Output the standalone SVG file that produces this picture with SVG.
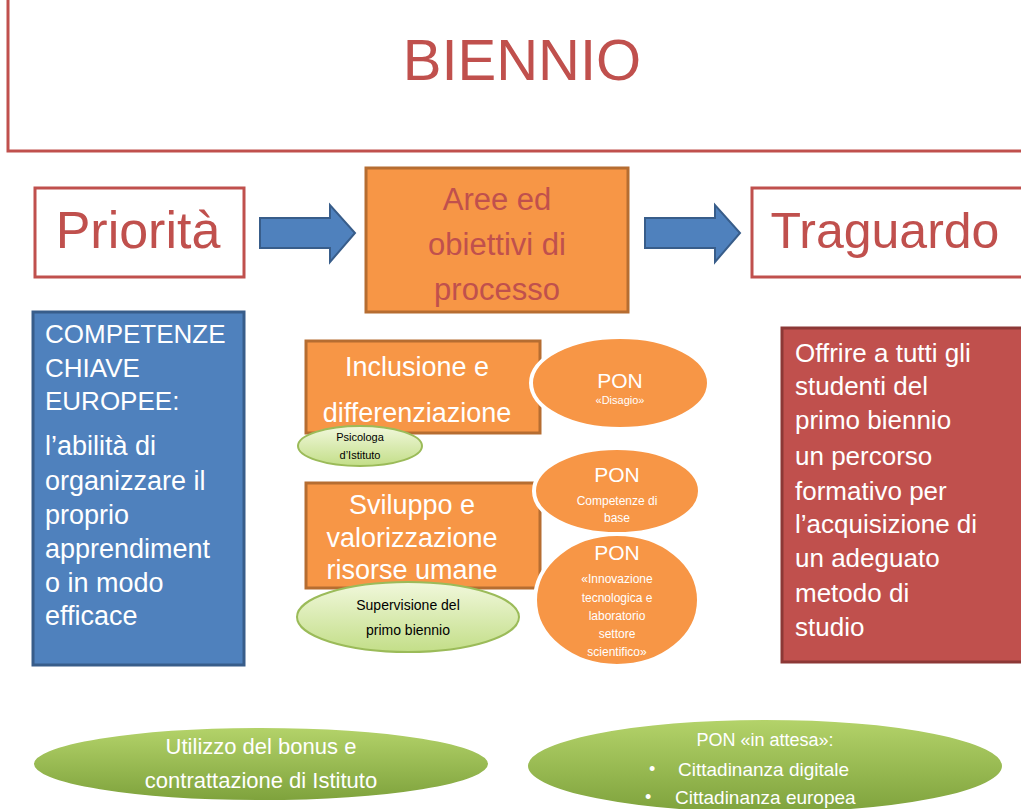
<svg xmlns="http://www.w3.org/2000/svg" width="1021" height="809" viewBox="0 0 1021 809">
<defs>
<linearGradient id="lg" x1="0" y1="0" x2="0" y2="1"><stop offset="0" stop-color="#F1F8DC"/><stop offset="1" stop-color="#C3DE88"/></linearGradient>
<linearGradient id="dg" x1="0" y1="0" x2="0" y2="1"><stop offset="0" stop-color="#B4D36A"/><stop offset="1" stop-color="#7EA23C"/></linearGradient>
<style>
text{font-family:"Liberation Sans",Arial,sans-serif}
.red{fill:#C0504D}
.w{fill:#fff}
.k{fill:#000}
.orange{fill:#F79646;stroke:#B66D31;stroke-width:3}
.ob{fill:#F79646;stroke:#fff;stroke-width:4}
.lgreen{fill:url(#lg);stroke:#9BBB59;stroke-width:2}
.dgreen{fill:url(#dg);stroke:#fff;stroke-width:2}
.arrow{fill:#4F81BD;stroke:#385D8A;stroke-width:2}
.m{text-anchor:middle}
</style>
</defs>
<rect width="1021" height="809" fill="#fff"/>
<g id="title"><rect x="8" y="-3" width="1020" height="154" fill="#fff" stroke="#C0504D" stroke-width="3"/><text x="522" y="80" font-size="58" class="red m">BIENNIO</text></g>
<g id="priorita"><rect x="35" y="188" width="209" height="89" fill="#fff" stroke="#C0504D" stroke-width="3"/><text x="138" y="248" font-size="52" class="red m">Priorità</text></g>
<g id="connectors">
<path class="arrow" d="M260 218 H330 V205 L355 233 L330 262 V248 H260 Z"/>
<path class="arrow" d="M645 218 H715 V205 L740 233 L715 262 V248 H645 Z"/>
</g>
<g id="aree"><rect x="366" y="168" width="262" height="144" class="orange"/>
<text x="497" y="210" font-size="31" class="red m">Aree ed</text><text x="497" y="255" font-size="31" class="red m">obiettivi di</text><text x="497" y="300" font-size="31" class="red m">processo</text></g>
<g id="traguardo"><rect x="752" y="188" width="272" height="89" fill="#fff" stroke="#C0504D" stroke-width="3"/><text x="885" y="248" font-size="50" class="red m">Traguardo</text></g>
<g id="competenze"><rect x="33" y="312" width="211" height="353" fill="#4F81BD" stroke="#385D8A" stroke-width="3"/>
<g font-size="26"><text x="45" y="343" class="w">COMPETENZE</text><text x="45" y="377" class="w">CHIAVE</text><text x="45" y="410" class="w">EUROPEE:</text><text x="45" y="455" class="w" font-size="27">l’abilità di</text><text x="45" y="490" class="w" font-size="27">organizzare il</text><text x="45" y="524" class="w" font-size="27">proprio</text><text x="45" y="558" class="w" font-size="27">apprendiment</text><text x="45" y="592" class="w" font-size="27">o in modo</text><text x="45" y="625" class="w" font-size="27">efficace</text></g></g>
<g id="offrire"><rect x="782" y="328" width="242" height="334" fill="#C0504D" stroke="#8C3836" stroke-width="3"/>
<g font-size="26"><text x="795" y="362" class="w">Offrire a tutti gli</text><text x="795" y="395" class="w">studenti del</text><text x="795" y="429" class="w">primo biennio</text><text x="795" y="465" class="w">un percorso</text><text x="795" y="500" class="w">formativo per</text><text x="795" y="533" class="w">l’acquisizione di</text><text x="795" y="567" class="w">un adeguato</text><text x="795" y="602" class="w">metodo di</text><text x="795" y="636" class="w">studio</text></g></g>
<g id="inclusione"><rect x="306" y="341" width="234" height="92" class="orange"/><text x="417" y="376" font-size="27" class="w m">Inclusione e</text><text x="417" y="422" font-size="27" class="w m">differenziazione</text></g>
<g id="pon-disagio"><ellipse cx="620" cy="383" rx="89" ry="46" class="ob"/><text x="620" y="388" font-size="21" class="w m">PON</text><text x="620" y="404" font-size="11" class="w m">«Disagio»</text></g>
<g id="psicologa"><ellipse cx="360" cy="446" rx="62" ry="20" class="lgreen"/><text x="360" y="441" font-size="11" class="k m">Psicologa</text><text x="360" y="459" font-size="11" class="k m">d’Istituto</text></g>
<g id="sviluppo"><rect x="306" y="483" width="234" height="105" class="orange"/><text x="412" y="514" font-size="27" class="w m">Sviluppo e</text><text x="412" y="547" font-size="27" class="w m">valorizzazione</text><text x="412" y="579" font-size="27" class="w m">risorse umane</text></g>
<g id="pon-competenze"><ellipse cx="617" cy="491" rx="83" ry="43" class="ob"/><text x="617" y="482" font-size="21" class="w m">PON</text><text x="617" y="505" font-size="12" class="w m">Competenze di</text><text x="617" y="522" font-size="12" class="w m">base</text></g>
<g id="pon-innovazione"><ellipse cx="617" cy="600" rx="82" ry="66" class="ob"/><text x="617" y="560" font-size="21" class="w m">PON</text><text x="617" y="583" font-size="12" class="w m">«Innovazione</text><text x="617" y="602" font-size="12" class="w m">tecnologica e</text><text x="617" y="620" font-size="12" class="w m">laboratorio</text><text x="617" y="638" font-size="12" class="w m">settore</text><text x="617" y="656" font-size="12" class="w m">scientifico»</text></g>
<g id="supervisione"><ellipse cx="408" cy="617" rx="111" ry="35" class="lgreen"/><text x="408" y="610" font-size="14" class="k m">Supervisione del</text><text x="408" y="635" font-size="14" class="k m">primo biennio</text></g>
<g id="bonus"><ellipse cx="261" cy="764" rx="228" ry="37" class="dgreen"/><text x="261" y="754" font-size="22" class="w m">Utilizzo del bonus e</text><text x="261" y="788" font-size="22" class="w m">contrattazione di Istituto</text></g>
<g id="pon-attesa"><ellipse cx="765" cy="766" rx="238" ry="47" class="dgreen"/><text x="765" y="746" font-size="18" class="w m">PON «in attesa»:</text>
<text x="649" y="775" font-size="18" class="w">•</text><text x="678" y="776" font-size="19" class="w">Cittadinanza digitale</text>
<text x="645" y="803" font-size="18" class="w">•</text><text x="675" y="804" font-size="19" class="w">Cittadinanza europea</text></g>
</svg>
